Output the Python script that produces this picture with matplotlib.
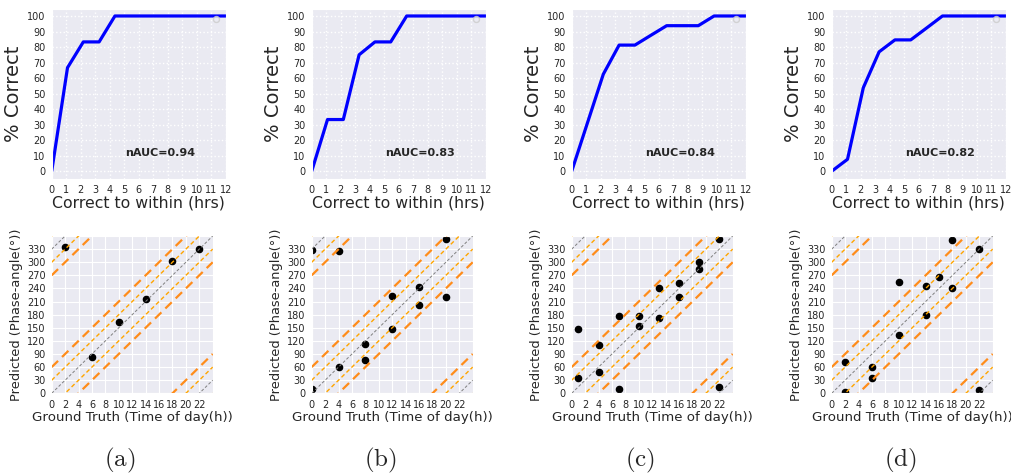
import numpy as np
import matplotlib.pyplot as plt
import seaborn as sns

sns.set_style("darkgrid")
plt.rcParams['font.family'] = ['DejaVu Sans']
plt.rcParams['mathtext.fontset'] = 'cm'

# tolerance grid (hrs) used for the accuracy curves
hours = [0, 1.09, 2.18, 3.27, 4.36, 5.45, 6.55, 7.64, 8.73, 9.82, 10.91, 12]

acc_a = [0, 66.7, 83.3, 83.3, 100, 100, 100, 100, 100, 100, 100, 100]
acc_b = [0, 33.3, 33.3, 75, 83.3, 83.3, 100, 100, 100, 100, 100, 100]
acc_c = [0, 31.25, 62.5, 81.25, 81.25, 87.5, 93.75, 93.75, 93.75, 100, 100, 100]
acc_d = [0, 7.7, 53.8, 76.9, 84.6, 84.6, 92.3, 100, 100, 100, 100, 100]
nauc = ["0.94", "0.83", "0.84", "0.82"]

# ground truth (h) vs predicted phase angle (deg)
gt_a = [2, 6, 10, 14, 18, 22]
pred_a = [335, 84, 164, 216, 302, 331]
gt_b = [0, 0, 4, 4, 8, 8, 12, 12, 16, 16, 20, 20]
pred_b = [327, 10, 325, 61, 112, 76, 222, 147, 244, 202, 354, 220]
gt_c = [1, 1, 4, 4, 7, 7, 10, 10, 13, 13, 16, 16, 19, 19, 22, 22]
pred_c = [147, 34, 110, 49, 176, 9, 178, 153, 240, 172, 253, 221, 301, 285, 353, 14]
gt_d = [2, 2, 6, 6, 10, 10, 14, 14, 16, 18, 18, 22, 22]
pred_d = [72, 2, 61, 34, 255, 133, 245, 179, 267, 351, 240, 331, 8]

accs = [acc_a, acc_b, acc_c, acc_d]
gts = [gt_a, gt_b, gt_c, gt_d]
preds = [pred_a, pred_b, pred_c, pred_d]
letters = ["a", "b", "c", "d"]

fig = plt.figure(figsize=(10.11, 4.75), dpi=100)
W, H = 1011, 475

for i in range(4):
    left = 51.7 + 260 * i
    # top: accuracy curve
    ax = fig.add_axes([left / W, 1 - 179 / H, 174 / W, 170 / H])
    ax.plot(hours, accs[i], color="blue", lw=2.3)
    ax.set_xlim(0, 12)
    ax.set_ylim(-5, 104.5)
    ax.set_xticks(range(13))
    ax.set_yticks(range(0, 101, 10))
    ax.grid(True, color="white", linestyle=":", lw=1)
    ax.tick_params(labelsize=7, pad=1)
    ax.set_xlabel("Correct to within (hrs)", fontsize=11.3, labelpad=0)
    ax.set_ylabel("% Correct", fontsize=14, labelpad=3)
    ax.text(7.5, 12, "nAUC=" + nauc[i], fontsize=8, fontweight="bold", ha="center", va="center")
    ax.legend(handles=[], loc="upper right", borderpad=0.2, frameon=True)

    # bottom: phase scatter
    ax2 = fig.add_axes([left / W, 1 - 393.3 / H, 161 / W, 157.3 / H])
    ax2.scatter(gts[i], preds[i], color="black", s=20, zorder=2)
    x = np.array([0, 24])
    for off in [0, 330, -330]:
        ax2.plot(x, 15 * x + off, color="gray", ls="--", lw=0.7, dashes=(3, 2), zorder=3)
        for d in [30, -30]:
            ax2.plot(x, 15 * x + off + d, color="orange", ls="--", lw=1, dashes=(3, 2), zorder=3)
        for d in [60, -60]:
            ax2.plot(x, 15 * x + off + d, color="#ff8c1a", ls="--", lw=1.6, dashes=(4, 2.5), zorder=3)
    ax2.set_xlim(0, 24)
    ax2.set_ylim(0, 360)
    ax2.set_xticks(range(0, 24, 2))
    ax2.set_yticks(range(0, 360, 30))
    ax2.tick_params(labelsize=7, pad=1)
    ax2.set_xlabel("Ground Truth (Time of day(h))", fontsize=9.6, labelpad=1)
    ax2.set_ylabel("Predicted (Phase-angle(°))", fontsize=9.4, labelpad=3)

    fig.text((120 + 260 * i) / W, 1 - 460 / H, r"$\mathrm{(" + letters[i] + ")}$", fontsize=18, ha="center", va="center")

fig.savefig("out.png", dpi=100)
